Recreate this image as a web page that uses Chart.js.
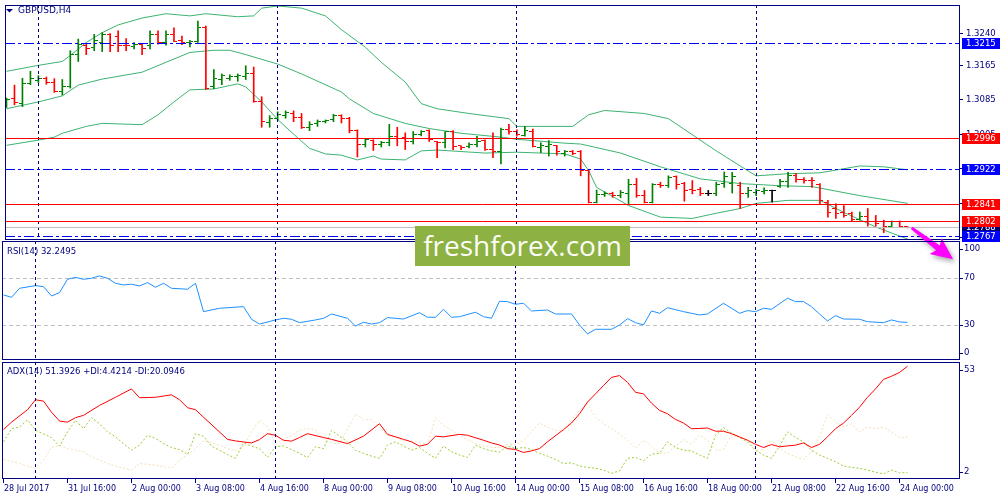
<!DOCTYPE html>
<html>
<head>
<meta charset="utf-8">
<script src="https://cdn.jsdelivr.net/npm/chart.js@4.4.1/dist/chart.umd.min.js"></script>
<style>
	html, body { margin: 0; padding: 0; background: #fff; }
	#wrap { position: relative; width: 1000px; height: 500px; overflow: hidden; background: #fff; }
	#wrap canvas { position: absolute; left: 0; top: 0; }
	#wm { position: absolute; left: 415px; top: 226px; width: 215px; height: 40px; background: #8db142;
		color: #fbfdf6; font: 28px "Open Sans", sans-serif; line-height: 39px; text-align: center; z-index: 5; }
</style>
</head>
<body>
<div id="wrap">
	<canvas id="priceChart" width="1000" height="500"></canvas>
	<canvas id="rsiChart" width="1000" height="500"></canvas>
	<canvas id="adxChart" width="1000" height="500"></canvas>
	<div id="wm">freshforex.com</div>
</div>
<script>
//  GBPUSD H4, one entry per bar (28 Jul 2017 08:00 .. 24 Aug 2017 04:00)
const opens = [1.3075,1.3087,1.3075,1.3121,1.3129,1.3134,1.3125,1.3102,1.3114,1.3190,
	1.3211,1.3206,1.3217,1.3235,1.3232,1.3211,1.3208,1.3212,1.3211,1.3236,
	1.3217,1.3236,1.3221,1.3217,1.3219,1.3253,1.3114,1.3131,1.3134,1.3137,
	1.3139,1.3146,1.3081,1.3032,1.3041,1.3047,1.3052,1.3043,1.3020,1.3028,
	1.3033,1.3037,1.3047,1.3041,1.3013,1.2980,1.2990,1.2980,1.2984,1.2999,
	1.2997,1.2987,1.3004,1.3012,1.2987,1.2984,1.3009,1.2977,1.2976,1.2981,
	1.2990,1.2968,1.2963,1.3014,1.3010,1.3001,1.3010,1.2974,1.2976,1.2978,
	1.2958,1.2964,1.2963,1.2920,1.2846,1.2863,1.2867,1.2861,1.2865,1.2888,
	1.2861,1.2846,1.2888,1.2884,1.2905,1.2890,1.2876,1.2875,1.2867,1.2867,
	1.2890,1.2890,1.2884,1.2865,1.2869,1.2870,1.2873,1.2882,1.2894,1.2907,
	1.2899,1.2897,1.2888,1.2846,1.2831,1.2821,1.2819,1.2805,1.2813,1.2800,
	1.2800,1.2789,1.2800,1.2789]
const highs = [1.3088,1.3118,1.3134,1.3150,1.3140,1.3137,1.3133,1.3131,1.3198,1.3225,
	1.3213,1.3236,1.3240,1.3238,1.3244,1.3226,1.3217,1.3213,1.3244,1.3244,
	1.3244,1.3251,1.3232,1.3222,1.3267,1.3255,1.3154,1.3144,1.3142,1.3144,
	1.3163,1.3160,1.3091,1.3047,1.3056,1.3058,1.3058,1.3052,1.3033,1.3037,
	1.3037,1.3050,1.3049,1.3043,1.3014,1.2994,1.2991,1.2987,1.3027,1.3020,
	1.3007,1.3010,1.3012,1.3014,1.2987,1.3010,1.3012,1.2977,1.2984,1.2999,
	1.2991,1.3007,1.3018,1.3027,1.3014,1.3022,1.3016,1.2984,1.2989,1.2978,
	1.2966,1.2966,1.2966,1.2922,1.2874,1.2870,1.2869,1.2873,1.2899,1.2901,
	1.2873,1.2889,1.2892,1.2907,1.2907,1.2892,1.2896,1.2880,1.2873,1.2892,
	1.2916,1.2915,1.2892,1.2880,1.2876,1.2879,1.2874,1.2899,1.2915,1.2912,
	1.2903,1.2903,1.2889,1.2850,1.2842,1.2838,1.2823,1.2823,1.2831,1.2815,
	1.2804,1.2802,1.2802,1.2789]
const lows = [1.3066,1.3072,1.3068,1.3119,1.3124,1.3120,1.3101,1.3095,1.3111,1.3173,
	1.3189,1.3198,1.3196,1.3196,1.3196,1.3198,1.3202,1.3189,1.3202,1.3213,
	1.3211,1.3219,1.3212,1.3207,1.3217,1.3108,1.3110,1.3119,1.3129,1.3127,
	1.3131,1.3078,1.3020,1.3020,1.3037,1.3041,1.3033,1.3017,1.3012,1.3022,
	1.3030,1.3033,1.3030,1.3007,1.2951,1.2974,1.2966,1.2974,1.2977,1.2977,
	1.2968,1.2981,1.3000,1.2987,1.2949,1.2972,1.2968,1.2968,1.2972,1.2974,
	1.2966,1.2949,1.2935,1.3004,1.2999,1.2999,1.2974,1.2961,1.2953,1.2955,
	1.2953,1.2956,1.2907,1.2844,1.2844,1.2859,1.2857,1.2856,1.2841,1.2857,
	1.2844,1.2844,1.2880,1.2880,1.2876,1.2848,1.2865,1.2861,1.2861,1.2861,
	1.2880,1.2867,1.2831,1.2857,1.2861,1.2865,1.2846,1.2880,1.2880,1.2892,
	1.2890,1.2880,1.2842,1.2811,1.2808,1.2811,1.2802,1.2804,1.2790,1.2790,
	1.2775,1.2789,1.2787,1.2786]
const closes = [1.3085,1.3078,1.3121,1.3133,1.3134,1.3125,1.3104,1.3114,1.3190,1.3213,
	1.3202,1.3221,1.3235,1.3209,1.3209,1.3209,1.3212,1.3202,1.3236,1.3217,
	1.3236,1.3219,1.3216,1.3219,1.3251,1.3111,1.3134,1.3140,1.3137,1.3140,
	1.3144,1.3081,1.3033,1.3041,1.3049,1.3054,1.3043,1.3020,1.3026,1.3033,
	1.3036,1.3047,1.3041,1.3013,1.2981,1.2991,1.2980,1.2984,1.2999,1.2995,
	1.2987,1.3003,1.3009,1.2991,1.2984,1.3009,1.2976,1.2974,1.2981,1.2986,
	1.2968,1.2963,1.3014,1.3010,1.3003,1.3012,1.2976,1.2978,1.2980,1.2964,
	1.2963,1.2960,1.2920,1.2846,1.2863,1.2865,1.2861,1.2869,1.2888,1.2861,
	1.2846,1.2888,1.2884,1.2903,1.2888,1.2874,1.2874,1.2867,1.2867,1.2888,
	1.2905,1.2905,1.2865,1.2873,1.2873,1.2874,1.2873,1.2894,1.2907,1.2899,
	1.2896,1.2896,1.2850,1.2821,1.2819,1.2815,1.2805,1.2813,1.2800,1.2796,
	1.2789,1.2800,1.2789,1.2788]

//  Bollinger bands (bar index -> price)
const bbUpperBars = [0,4,7,8,10,12,14,17,20,23,25,29,31,32,34,37,40,42,45,47,50,52,54,58,63,64,71,73,75,80,83,89,92,94,98,102,107,110,113]
const bbUpper = [1.3150,1.3164,1.3173,1.3187,1.3217,1.3240,1.3258,1.3274,1.3284,1.3279,1.3284,1.3277,1.3279,1.3297,1.3302,1.3297,1.3279,1.3247,1.3206,1.3171,
	1.3125,1.3075,1.3063,1.3052,1.3040,1.3022,1.3022,1.3049,1.3059,1.3052,1.3040,1.2965,1.2930,1.2907,1.2912,1.2914,1.2930,1.2928,1.2921]
const bbMiddleBars = [0,4,7,9,12,17,20,23,26,28,30,34,37,42,43,46,50,53,57,62,64,70,72,77,82,87,92,97,101,107,113]
const bbMiddle = [1.3063,1.3079,1.3093,1.3118,1.3132,1.3148,1.3171,1.3194,1.3199,1.3199,1.3189,1.3167,1.3144,1.3102,1.3086,1.3052,1.3029,1.3017,1.3006,1.2997,
	1.2992,1.2983,1.2981,1.2960,1.2928,1.2900,1.2889,1.2884,1.2882,1.2861,1.2843]
const bbLowerBars = [0,4,6,7,10,12,17,19,21,23,26,29,30,32,34,36,38,40,42,44,46,47,50,52,54,60,64,70,72,73,74,78,82,86,89,92,94,98,102,105,109,113]
const bbLower = [1.2978,1.2990,1.2997,1.3006,1.3022,1.3029,1.3026,1.3049,1.3079,1.3107,1.3109,1.3121,1.3114,1.3079,1.3038,1.3004,1.2971,1.2958,1.2955,1.2944,
	1.2953,1.2946,1.2944,1.2965,1.2967,1.2960,1.2962,1.2958,1.2946,1.2919,1.2880,1.2838,1.2811,1.2808,1.2820,1.2831,1.2843,1.2850,1.2850,1.2822,1.2788,1.2760]

//  RSI(14)
const rsiBars = [0,1,2,4,5,6,7,8,9,10,11,12,13,14,15,16,17,18,19,20,21,23,24,25,27,30,31,32,34,35,36,37,39,40,41,43,44,45,46,47,
	48,50,52,53,54,55,56,57,59,60,61,62,63,64,65,66,68,69,71,72,73,74,76,77,78,79,80,81,82,83,85,86,87,88,90,92,93,94,95,96,
	98,99,100,101,102,103,104,105,107,108,110,111,112,113]
const rsiValues = [55.7,53.7,61.4,63.7,62.8,54.8,57.7,69.1,70.8,69.1,70.0,72.0,70.0,65.7,64.3,64.9,63.4,66.3,62.3,65.7,
	61.4,60.6,65.7,41.4,44.3,45.7,34.9,30.8,34.3,35.7,34.9,32.0,34.3,35.7,39.4,35.7,29.1,32.3,30.8,32.0,
	36.3,35.1,40.5,36.6,36.6,43.4,36.6,37.1,40.9,37.1,35.7,50.3,50.0,47.7,48.6,42.0,42.8,39.4,39.4,30.0,
	22.3,26.3,26.3,30.0,35.4,32.0,30.0,42.0,40.0,44.8,41.4,40.0,38.6,39.4,48.6,40.0,42.3,41.4,44.3,43.4,
	52.9,50.0,50.0,45.7,39.4,33.4,38.0,35.1,34.9,32.8,32.0,34.3,32.6,32.2]

//  ADX(14) with +DI / -DI
const adxBars = [0,1,3,4,5,6,7,8,9,10,12,14,16,17,19,21,22,23,24,25,28,29,31,32,33,34,35,36,37,38,40,41,43,45,47,48,50,51,52,53,
	54,55,57,58,60,61,62,63,64,65,66,67,68,70,71,72,73,74,75,76,77,78,79,80,81,82,83,84,85,86,87,88,89,90,91,92,93,94,95,96,
	97,98,99,100,101,102,103,104,105,106,107,108,109,110,111,112,113]
const adxValues = [23.4,26.7,32.2,36.6,36.0,31.1,27.2,26.7,28.7,29.7,34.1,37.7,41.4,37.5,37.7,38.8,36.6,33.1,32.2,28.9,
	19.1,18.4,17.5,19.0,21.6,20.9,18.7,18.3,19.9,21.6,19.9,19.1,17.2,20.5,26.0,21.3,19.1,18.0,16.1,16.9,
	20.5,20.2,21.3,20.9,18.7,17.5,16.6,15.0,14.6,13.3,14.0,15.0,18.0,23.4,26.3,30.4,35.6,39.2,42.9,46.5,
	47.3,44.3,39.9,39.2,35.1,31.9,30.4,27.9,26.3,23.8,23.9,24.1,22.7,22.7,21.6,20.2,18.7,16.9,15.5,16.8,
	15.8,16.2,16.5,17.5,15.5,16.9,20.2,23.8,26.3,29.7,33.3,37.7,41.4,45.6,47.0,48.7,51.4]
const plusDi = [18.0,23.8,24.5,27.8,23.1,21.5,19.9,16.1,22.4,27.5,23.8,28.7,26.0,22.4,20.2,17.2,14.3,16.5,20.9,19.5,
	17.2,15.5,14.6,12.4,21.6,20.5,16.1,14.3,12.4,10.7,17.5,16.1,15.0,11.1,15.8,16.2,14.6,12.9,11.1,15.8,
	15.0,23.1,20.5,18.0,14.3,12.9,11.7,10.7,16.5,18.0,16.1,14.3,15.5,12.9,10.7,16.1,13.6,12.2,11.1,16.5,
	15.0,14.0,13.5,16.1,15.0,15.5,14.6,12.9,11.7,10.2,8.4,8.7,7.3,6.7,6.3,5.5,4.1,5.1,10.7,11.1,
	9.6,12.6,12.9,18.0,15.5,14.3,14.0,12.2,10.7,20.9,24.3,21.9,19.9,18.0,14.3,12.2,10.7,16.1,22.4,19.9,
	18.0,14.3,12.2,10.7,9.2,7.3,6.7,6.3,5.5,4.6,3.8,5.5,4.3,4.4]
const minusDi = [10.2,9.3,8.4,7.3,6.3,9.9,15.5,16.5,15.0,14.3,13.6,11.4,9.9,8.4,7.3,6.3,5.5,8.4,8.1,7.7,
	7.0,6.3,9.9,12.2,15.0,18.7,17.5,16.5,15.0,14.0,16.1,22.4,27.5,24.5,17.2,19.0,20.9,23.1,23.8,23.4,
	19.0,17.5,17.2,23.8,30.4,27.8,27.8,24.5,20.9,19.9,18.7,18.4,17.5,16.9,28.7,25.3,23.1,20.9,19.0,17.2,
	16.1,15.5,15.5,16.9,16.5,18.7,22.4,26.3,24.5,23.1,22.7,27.5,31.9,34.8,28.9,26.0,23.8,21.6,18.7,15.0,
	18.7,16.1,12.9,13.1,16.1,19.0,16.9,20.9,18.7,14.3,14.6,20.9,19.9,19.0,14.3,14.6,18.7,15.5,12.9,11.4,
	10.2,13.6,20.2,30.1,26.7,24.5,26.0,22.4,24.5,23.8,24.5,22.4,19.9,20.1]

//  axes, levels and annotations
const xTickBars = [0,8,16,24,32,40,48,56,64,72,80,88,96,104,112]
const xTickLabels = [`28 Jul 2017`,`31 Jul 16:00`,`2 Aug 00:00`,`3 Aug 08:00`,`4 Aug 16:00`,`8 Aug 00:00`,`9 Aug 08:00`,`10 Aug 16:00`,
	`14 Aug 00:00`,`15 Aug 08:00`,`16 Aug 16:00`,`18 Aug 00:00`,`21 Aug 08:00`,`22 Aug 16:00`,`24 Aug 00:00`]
const weekBars = [4, 34, 64, 94]
const priceTicks = [1.3240, 1.3165, 1.3085, 1.3005, 1.2925, 1.2845, 1.2765]
const levelPrices = [1.2788, 1.3215, 1.2996, 1.2922, 1.2841, 1.2802, 1.2767]
const rsiTicks = [100, 70, 30, 0]
const rsiLevels = [70, 30]
const adxTicks = [53, 2]
const arrowFrom = {bar: 113.5, price: 1.2786}
const arrowTo = {bar: 118.7, price: 1.2713}

//  styles
const levelLine = [`#c0c0c0`, `#0000ff`, `#ff0000`, `#0000ff`, `#ff0000`, `#ff0000`, `#0000ff`]
const levelBox = [`#00006e`, `#0000ff`, `#ff0000`, `#0000ff`, `#ff0000`, `#ff0000`, `#0000ff`]
const levelDashed = [false, true, false, true, false, false, true]
const NAVY = `#000080`
const FONT = `8.5px "DejaVu Sans"`
const TITLE_FONT = `9px "DejaVu Sans"`
const X_FONT = `8px "DejaVu Sans"`
const UP = `#008000`, DOWN = `#ff0000`, DOJI = `#000000`
const BB_COLOR = `#3cb371`

//  panel rectangles and scale ranges (8 px per bar, bar 0 at x = 3)
const PRICE_AREA = {left: 2, right: 960, top: 2, bottom: 240}
const RSI_AREA = {left: 2, right: 960, top: 241, bottom: 360}
const ADX_AREA = {left: 2, right: 960, top: 362, bottom: 479}
const X_MIN = -0.1875, X_MAX = 119.5625

const series = (bars, values) => bars.map((bar, k) => ({x: bar, y: values[k]}))

function tickImage(color, side) {
	const c = document.createElement(`canvas`)
	c.width = 7
	c.height = 1
	const g = c.getContext(`2d`)
	g.fillStyle = color
	g.fillRect(side === `open` ? 0 : 4, 0, 3, 1)
	return c
}

const barColors = opens.map((open, i) => closes[i] > open ? UP : closes[i] < open ? DOWN : DOJI)
const openMarks = {}, closeMarks = {}
for (const color of [UP, DOWN, DOJI]) {
	openMarks[color] = tickImage(color, `open`)
	closeMarks[color] = tickImage(color, `close`)
}

function panelOptions(area, yMin, yMax) {
	return {
		responsive: false,
		animation: false,
		devicePixelRatio: 1,
		events: [],
		layout: {padding: {left: area.left, right: 1000 - area.right, top: area.top, bottom: 500 - area.bottom}},
		plugins: {legend: {display: false}, tooltip: {enabled: false}},
		scales: {
			x: {type: `linear`, min: X_MIN, max: X_MAX, offset: false, display: false},
			y: {type: `linear`, min: yMin, max: yMax, display: false}
		}
	}
}

function lineSet(data, color, dash) {
	return {type: `line`, data, borderColor: color, borderWidth: 1, borderDash: dash || [], pointRadius: 0, tension: 0, fill: false}
}

//  navy frame around a panel
function drawFrame(chart) {
	const {ctx, chartArea: a} = chart
	ctx.save()
	ctx.strokeStyle = NAVY
	ctx.lineWidth = 1
	ctx.setLineDash([])
	ctx.strokeRect(Math.round(a.left) + 0.5, Math.round(a.top) + 0.5, Math.round(a.right - a.left) - 1, Math.round(a.bottom - a.top) - 1)
	ctx.restore()
}

//  dashed week separators
function drawWeekLines(chart) {
	const {ctx, chartArea: a, scales: {x}} = chart
	ctx.save()
	ctx.strokeStyle = NAVY
	ctx.lineWidth = 1
	ctx.setLineDash([3, 3])
	for (const bar of weekBars) {
		const px = Math.floor(x.getPixelForValue(bar)) + 0.5
		ctx.beginPath()
		ctx.moveTo(px, a.top)
		ctx.lineTo(px, a.bottom)
		ctx.stroke()
	}
	ctx.restore()
}

//  right side value labels for the indicator panels
function drawSideLabels(chart, ticks) {
	const {ctx, chartArea: a, scales: {y}} = chart
	ctx.save()
	ctx.font = FONT
	ctx.fillStyle = NAVY
	ctx.strokeStyle = NAVY
	ctx.textBaseline = `middle`
	for (const v of ticks) {
		const py = y.getPixelForValue(v)
		const ly = Math.min(Math.max(py, a.top + 8), a.bottom - 7)
		ctx.beginPath()
		ctx.moveTo(a.right, Math.round(ly) + 0.5)
		ctx.lineTo(a.right + 3, Math.round(ly) + 0.5)
		ctx.stroke()
		ctx.fillText(String(v), a.right + 4, ly)
	}
	ctx.restore()
}

function drawTitle(ctx, text, x, y, font) {
	ctx.save()
	ctx.font = font || FONT
	ctx.fillStyle = NAVY
	ctx.textBaseline = `middle`
	ctx.fillText(text, x, y)
	ctx.restore()
}

function drawArrow(ctx, x0, y0, x1, y1) {
	const angle = Math.atan2(y1 - y0, x1 - x0)
	const len = Math.hypot(x1 - x0, y1 - y0)
	ctx.save()
	ctx.translate(x0, y0)
	ctx.rotate(angle)
	ctx.shadowColor = `rgba(0,0,0,0.35)`
	ctx.shadowBlur = 5
	ctx.shadowOffsetX = 2
	ctx.shadowOffsetY = 3
	ctx.fillStyle = `#ff00ff`
	ctx.beginPath()
	ctx.moveTo(0, -1.3)
	ctx.lineTo(len - 19, -3)
	ctx.lineTo(len - 22, -10)
	ctx.lineTo(len, 0)
	ctx.lineTo(len - 22, 10)
	ctx.lineTo(len - 19, 3)
	ctx.lineTo(0, 1.3)
	ctx.closePath()
	ctx.fill()
	ctx.restore()
}

const priceDecor = {
	id: `priceDecor`,
	afterDatasetsDraw(chart) {
		const {ctx, chartArea: a, scales: {y}} = chart
		drawWeekLines(chart)
		ctx.save()
		ctx.lineWidth = 1
		levelPrices.forEach((price, k) => {
			const py = Math.round(y.getPixelForValue(price)) + 0.5
			ctx.strokeStyle = levelLine[k]
			ctx.setLineDash(levelDashed[k] ? [10, 3, 3, 3] : [])
			ctx.beginPath()
			ctx.moveTo(a.left, py)
			ctx.lineTo(a.right, py)
			ctx.stroke()
		})
		ctx.restore()
	},
	afterDraw(chart) {
		const {ctx, chartArea: a, scales: {x, y}} = chart
		drawFrame(chart)
		ctx.save()
		ctx.font = FONT
		ctx.textBaseline = `middle`
		ctx.strokeStyle = NAVY
		ctx.fillStyle = NAVY
		//  plain price ticks
		for (const price of priceTicks) {
			const py = Math.round(y.getPixelForValue(price)) + 0.5
			ctx.beginPath()
			ctx.moveTo(a.right, py)
			ctx.lineTo(a.right + 3, py)
			ctx.stroke()
			ctx.fillText(price.toFixed(4), a.right + 6, py)
		}
		//  coloured level boxes on top of the ticks
		levelPrices.forEach((price, k) => {
			const py = Math.round(y.getPixelForValue(price))
			ctx.fillStyle = levelBox[k]
			ctx.fillRect(a.right + 2, py - 5, 40, 11)
			ctx.fillStyle = `#ffffff`
			ctx.fillText(price.toFixed(4), a.right + 6, py + 0.5)
		})
		//  symbol title with the small drop-down triangle
		ctx.fillStyle = NAVY
		ctx.beginPath()
		ctx.moveTo(6, 9)
		ctx.lineTo(13, 9)
		ctx.lineTo(9.5, 12.5)
		ctx.closePath()
		ctx.fill()
		ctx.restore()
		drawTitle(ctx, `GBPUSD,H4`, 18, 10.5, TITLE_FONT)
		drawArrow(ctx, x.getPixelForValue(arrowFrom.bar), y.getPixelForValue(arrowFrom.price),
			x.getPixelForValue(arrowTo.bar), y.getPixelForValue(arrowTo.price))
	}
}

const rsiDecor = {
	id: `rsiDecor`,
	beforeDatasetsDraw(chart) {
		const {ctx, chartArea: a, scales: {y}} = chart
		ctx.save()
		ctx.strokeStyle = `#c0c0c0`
		ctx.lineWidth = 1
		ctx.setLineDash([4, 3])
		for (const level of rsiLevels) {
			const py = Math.round(y.getPixelForValue(level)) + 0.5
			ctx.beginPath()
			ctx.moveTo(a.left, py)
			ctx.lineTo(a.right, py)
			ctx.stroke()
		}
		ctx.restore()
	},
	afterDatasetsDraw(chart) {
		drawWeekLines(chart)
	},
	afterDraw(chart) {
		drawFrame(chart)
		drawSideLabels(chart, rsiTicks)
		drawTitle(chart.ctx, `RSI(14) 32.2495`, 7, 251.5)
	}
}

const adxDecor = {
	id: `adxDecor`,
	afterDatasetsDraw(chart) {
		drawWeekLines(chart)
	},
	afterDraw(chart) {
		const {ctx, chartArea: a, scales: {x}} = chart
		drawFrame(chart)
		drawSideLabels(chart, adxTicks)
		drawTitle(ctx, `ADX(14) 51.3926 +DI:4.4214 -DI:20.0946`, 7, 371.5)
		//  time axis under the last panel
		ctx.save()
		ctx.font = X_FONT
		ctx.fillStyle = NAVY
		ctx.strokeStyle = NAVY
		ctx.textBaseline = `middle`
		xTickBars.forEach((bar, k) => {
			const px = Math.floor(x.getPixelForValue(bar)) + 0.5
			ctx.beginPath()
			ctx.moveTo(px, a.bottom)
			ctx.lineTo(px, a.bottom + 4)
			ctx.stroke()
			ctx.fillText(xTickLabels[k], px + 0.5, 488.5)
		})
		ctx.restore()
	}
}

new Chart(document.getElementById(`priceChart`), {
	type: `bar`,
	data: {
		datasets: [
			{
				type: `bar`,
				data: highs.map((high, i) => ({x: i, y: [lows[i], high]})),
				backgroundColor: barColors,
				barThickness: 1,
				borderWidth: 0,
				grouped: false
			},
			{
				type: `line`,
				showLine: false,
				data: opens.map((open, i) => ({x: i, y: open})),
				pointStyle: barColors.map(c => openMarks[c]),
				pointRadius: 3
			},
			{
				type: `line`,
				showLine: false,
				data: closes.map((close, i) => ({x: i, y: close})),
				pointStyle: barColors.map(c => closeMarks[c]),
				pointRadius: 3
			},
			lineSet(series(bbUpperBars, bbUpper), BB_COLOR),
			lineSet(series(bbMiddleBars, bbMiddle), BB_COLOR),
			lineSet(series(bbLowerBars, bbLower), BB_COLOR)
		]
	},
	options: panelOptions(PRICE_AREA, 1.27578, 1.33043),
	plugins: [priceDecor]
})

new Chart(document.getElementById(`rsiChart`), {
	type: `line`,
	data: {datasets: [lineSet(series(rsiBars, rsiValues), `#1e90ff`)]},
	options: panelOptions(RSI_AREA, 0, 101.9),
	plugins: [rsiDecor]
})

new Chart(document.getElementById(`adxChart`), {
	type: `line`,
	data: {
		datasets: [
			lineSet(series(adxBars, adxValues), `#ff0000`),
			lineSet(plusDi.map((v, i) => ({x: i, y: v})), `#9acd32`, [2, 2]),
			lineSet(minusDi.map((v, i) => ({x: i, y: v})), `#f5deb3`, [2, 2])
		]
	},
	options: panelOptions(ADX_AREA, 1.56, 53.3),
	plugins: [adxDecor]
})
</script>
</body>
</html>
